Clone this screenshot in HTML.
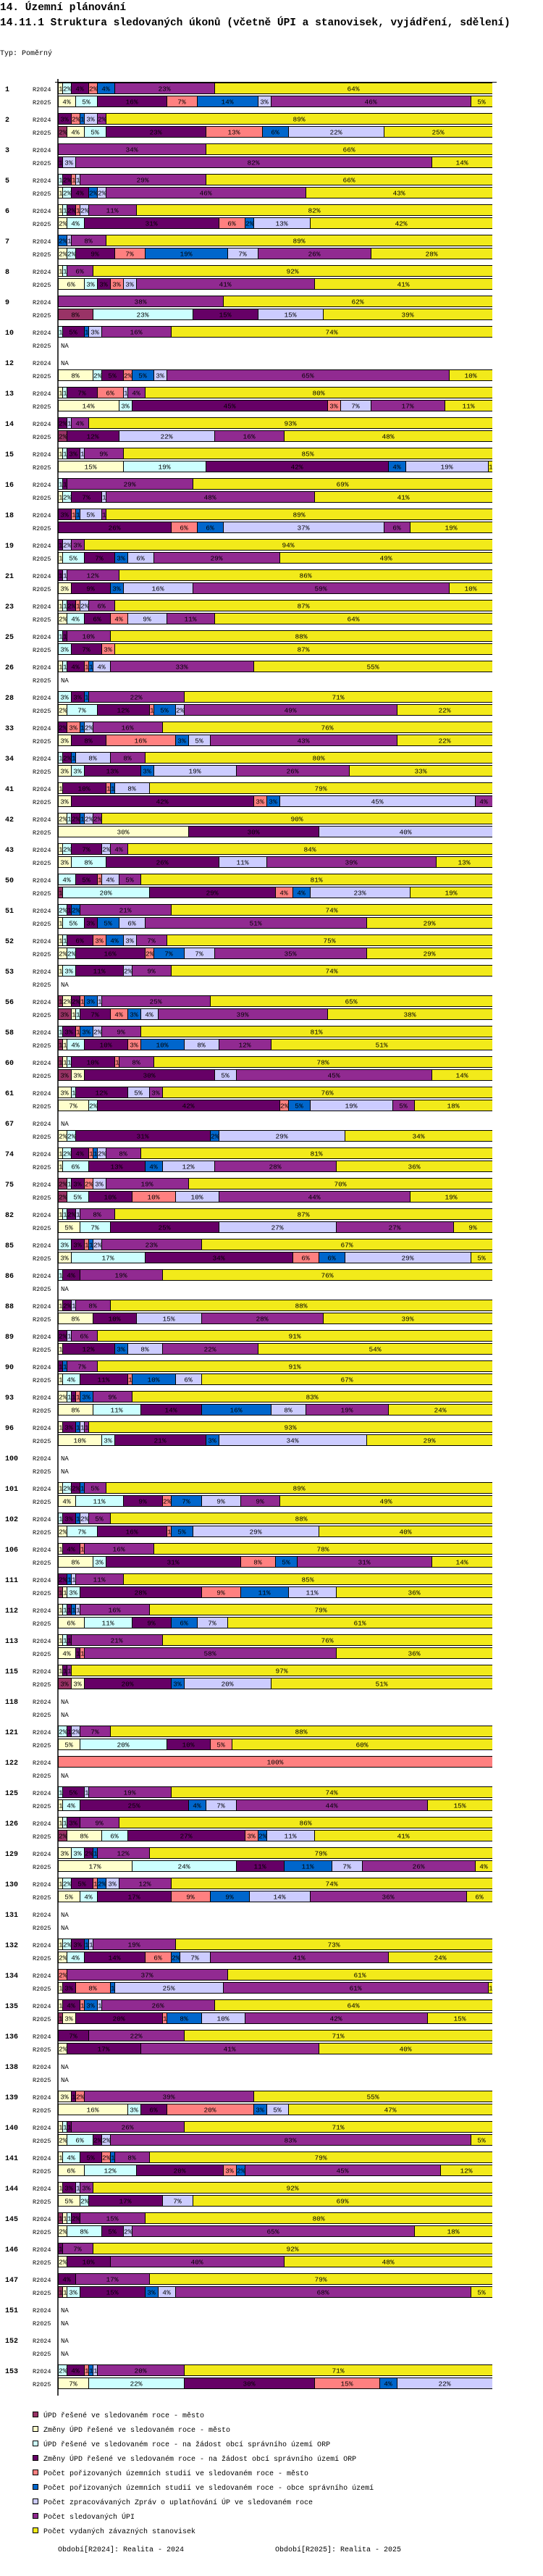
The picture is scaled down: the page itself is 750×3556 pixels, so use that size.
<!DOCTYPE html>
<html><head><meta charset="utf-8">
<style>
html,body{margin:0;padding:0;background:#fff;}
body{width:750px;height:3556px;overflow:hidden;position:relative;font-family:"Liberation Mono",monospace;}
svg{position:absolute;left:0;top:0;}
</style></head>
<body>
<svg id="chart" width="750" height="3556" xmlns="http://www.w3.org/2000/svg">
<text x="0" y="14" font-family="Liberation Mono, monospace" font-size="14.5" font-weight="bold">14. Územní plánování</text>
<text x="0" y="35" font-family="Liberation Mono, monospace" font-size="14.5" font-weight="bold">14.11.1 Struktura sledovaných úkonů (včetně ÚPI a stanovisek, vyjádření, sdělení)</text>
<text x="0" y="76" font-family="Liberation Mono, monospace" font-size="10">Typ: Poměrný</text>
<g id="bars"></g>
<g id="legend"></g>
<text x="80" y="3522" font-family="Liberation Mono, monospace" font-size="10">Období[R2024]: Realita - 2024</text>
<text x="380" y="3522" font-family="Liberation Mono, monospace" font-size="10">Období[R2025]: Realita - 2025</text>
</svg>
<script>
const categories = ["1","2","3","5","6","7","8","9","10","12","13","14","15","16","18","19","21","23","25","26","28","33","34","41","42","43","50","51","52","53","56","58","60","61","67","74","75","82","85","86","88","89","90","93","96","100","101","102","106","111","112","113","115","118","121","122","125","126","129","130","131","132","134","135","136","138","139","140","141","144","145","146","147","151","152","153"];
const periods = ["R2024","R2025"];
const seriesNames = ["ÚPD řešené ve sledovaném roce - město","Změny ÚPD řešené ve sledovaném roce - město","ÚPD řešené ve sledovaném roce - na žádost obcí správního území ORP","Změny ÚPD řešené ve sledovaném roce - na žádost obcí správního území ORP","Počet pořizovaných územních studií ve sledovaném roce - město","Počet pořizovaných územních studií ve sledovaném roce - obce správního území","Počet zpracovávaných Zpráv o uplatňování ÚP ve sledovaném roce","Počet sledovaných ÚPI","Počet vydaných závazných stanovisek"];
const seriesColors = ["#993366","#FFFFCC","#CCFFFF","#660066","#FF8080","#0066CC","#CCCCFF","#912A91","#F2EA1A"];
const valuesR2024 = [
[0,1,2,4,2,4,0,23,64],[0,0,0,3,2,1,3,2,89],[0,0,0,0,0,0,0,34,66],[0,0,1,2,1,0,1,29,66],[0,1,1,2,1,0,2,11,82],
[0,0,0,0,0,2,1,8,89],[0,1,1,0,0,0,0,6,92],[0,0,0,0,0,0,0,38,62],[0,0,1,5,0,1,3,16,74],null,
[0,1,1,7,6,0,1,4,80],[0,0,0,2,0,0,1,4,93],[0,1,1,3,0,0,1,9,85],[0,0,1,1,0,0,0,29,69],[0,0,0,3,1,1,5,1,89],
[0,0,0,1,0,0,2,3,94],[0,0,0,1,0,0,1,12,86],[0,1,1,2,1,0,2,6,87],[0,0,1,1,0,0,0,10,88],[0,1,1,4,1,1,4,33,55],
[0,0,3,3,0,1,0,22,71],[0,0,0,2,3,1,2,16,76],[0,0,1,2,0,1,8,8,80],[0,1,0,10,1,1,8,0,79],[0,2,1,2,0,1,2,2,90],
[0,1,2,7,0,0,2,4,84],[0,0,4,5,1,0,4,5,81],[0,0,2,1,0,2,0,21,74],[0,1,1,6,3,4,3,7,75],[0,1,3,11,0,0,2,9,74],
[1,2,0,2,1,3,1,25,65],[0,0,1,3,1,3,2,9,81],[1,1,1,10,1,0,0,8,78],[0,3,1,12,0,0,5,3,76],null,
[0,1,2,4,1,1,2,8,81],[2,0,1,3,2,0,3,19,70],[0,1,1,2,0,0,1,8,87],[0,0,3,3,1,1,2,23,67],[0,0,1,4,0,0,0,19,76],
[0,1,0,2,0,0,1,8,88],[0,0,0,2,0,0,1,6,91],[0,0,0,1,0,1,0,7,91],[0,2,1,1,1,3,0,9,83],[0,1,0,3,0,1,1,1,93],
null,[0,1,2,2,0,1,0,5,89],[0,0,1,3,0,1,2,5,88],[0,1,0,4,1,0,0,16,78],[0,0,0,2,0,1,1,11,85],
[0,1,1,1,0,1,1,16,79],[0,1,1,1,0,0,0,21,76],[0,1,0,1,0,0,0,1,97],null,[0,0,2,1,0,0,2,7,88],
[0,0,0,0,100,0,0,0,0],[0,0,1,5,0,0,1,19,74],[0,1,1,3,0,0,0,9,86],[0,3,3,2,0,1,0,12,79],[0,1,2,5,1,2,3,12,74],
null,[0,1,2,3,0,1,1,19,73],[0,0,0,0,2,0,0,37,61],[0,1,0,4,1,3,1,26,64],[0,0,0,7,0,0,0,22,71],
null,[0,3,0,1,2,0,0,39,55],[0,1,1,1,0,0,0,26,71],[0,1,4,5,2,1,0,8,79],[0,1,0,3,0,0,1,3,92],
[1,1,1,2,0,0,0,15,80],[0,0,0,1,0,0,0,7,92],[0,0,0,4,0,0,0,17,79],null,null,
[0,0,2,4,1,1,1,20,71]];
const valuesR2025 = [
[0,4,5,16,7,14,3,46,5],[2,4,5,23,13,6,22,0,25],[0,0,0,1,0,0,3,82,14],[0,1,2,4,0,2,2,46,43],[0,2,4,31,6,2,13,0,42],
[0,2,2,9,7,19,7,26,28],[0,6,3,3,3,0,3,41,41],[8,0,23,15,0,0,15,0,39],null,[0,8,2,5,2,5,3,65,10],
[0,14,3,45,3,0,7,17,11],[2,0,0,12,0,0,22,16,48],[0,15,19,42,0,4,19,0,1],[0,1,2,7,0,0,1,48,41],[0,0,0,26,6,6,37,6,19],
[0,1,5,7,0,3,6,29,49],[0,3,0,9,0,3,16,59,10],[0,2,4,6,4,0,9,11,64],[0,0,3,7,3,0,0,0,87],null,
[0,2,7,12,1,5,2,49,22],[0,3,0,8,16,3,5,43,22],[0,3,3,13,0,3,19,26,33],[0,3,0,42,3,3,45,4,0],[0,30,0,30,0,0,40,0,0],
[0,3,8,26,0,0,11,39,13],[1,0,20,29,4,4,23,0,19],[0,1,5,3,0,5,6,51,29],[0,2,2,16,2,7,7,35,29],null,
[3,1,1,7,4,3,4,39,38],[1,1,4,10,3,10,8,12,51],[3,3,0,30,0,0,5,45,14],[0,7,2,42,2,5,19,5,18],[0,2,2,31,0,2,29,0,34],
[0,1,6,13,0,4,12,28,36],[2,0,5,10,10,0,10,44,19],[0,5,7,25,0,0,27,27,9],[0,3,17,34,6,6,29,0,5],null,
[0,8,0,10,0,0,15,28,39],[0,1,0,12,0,3,8,22,54],[0,1,4,11,1,10,6,0,67],[0,8,11,14,0,16,8,19,24],[0,10,3,21,0,3,34,0,29],
null,[0,4,11,9,2,7,9,9,49],[0,2,7,16,1,5,29,0,40],[0,8,3,31,8,5,0,31,14],[1,1,3,28,9,11,11,0,36],
[0,6,11,9,0,6,7,0,61],[0,4,0,1,1,0,0,58,36],[3,3,0,20,0,3,20,0,51],null,[0,5,20,10,5,0,0,0,60],
null,[0,1,4,25,0,4,7,44,15],[2,8,6,27,3,2,11,0,41],[0,17,24,11,0,11,7,26,4],[0,5,4,17,9,9,14,36,6],
null,[0,2,4,14,6,2,7,41,24],[0,1,0,3,8,1,25,61,1],[1,3,0,20,1,8,10,42,15],[0,2,0,17,0,0,0,41,40],
null,[0,16,3,6,20,3,5,0,47],[0,2,6,2,0,0,2,83,5],[0,6,12,20,3,2,0,45,12],[0,5,2,17,0,0,7,0,69],
[0,2,8,5,0,0,2,65,18],[0,2,0,10,0,0,0,40,48],[1,1,3,15,0,3,4,68,5],null,null,
[0,7,22,30,15,4,22,0,0]];

const NS = "http://www.w3.org/2000/svg";
const X0 = 80, XW = 600, TOP = 114, GROUP = 42, ROW = 18, BH = 15;
function xScale(p){ return X0 + p / 100 * XW; }
function groupY(i){ return TOP + i * GROUP; }
function mk(tag, attrs){ const e = document.createElementNS(NS, tag); for (const k in attrs) e.setAttribute(k, attrs[k]); return e; }

const bars = document.getElementById('bars');
const lastY = groupY(categories.length - 1) + ROW + BH + 10;
const axis = mk('line', {x1: X0, y1: 109, x2: X0, y2: lastY, stroke: '#000', 'stroke-width': 1.5});


bars.appendChild(axis);
const topLine = mk('line', {x1: 76, y1: 113.5, x2: 686, y2: 113.5, stroke: '#000', 'stroke-width': 1});


bars.appendChild(topLine);

categories.forEach((cat, i) => {
  const gy = groupY(i);
  const gl = mk('text', {x: 7, y: gy + 12, 'font-family': 'Liberation Mono, monospace', 'font-size': 10, 'font-weight': 'bold'});
  gl.textContent = cat;
  
  
  bars.appendChild(gl);
  [valuesR2024[i], valuesR2025[i]].forEach((vals, r) => {
    const y = gy + r * ROW;
    const pl = mk('text', {x: 45, y: y + 12, 'font-family': 'Liberation Mono, monospace', 'font-size': 8.5});
    pl.textContent = periods[r];
    
    
    bars.appendChild(pl);
    if (!vals) {
      const na = mk('text', {x: 84, y: y + 12, 'font-family': 'Liberation Mono, monospace', 'font-size': 9});
      na.textContent = 'NA';
      
      
      bars.appendChild(na);
      return;
    }
    const total = vals.reduce((a, b) => a + b, 0);
    let acc = 0;
    vals.forEach((v, s) => {
      if (!v) return;
      const x1 = xScale(acc / total * 100), x2 = xScale((acc + v) / total * 100);
      acc += v;
      const seg = mk('svg', {x: x1, y: y, width: x2 - x1, height: BH + 1, overflow: 'hidden'});
      
      
      const rc = mk('rect', {x: 0.5, y: 0.5, width: Math.max(0, x2 - x1 - 0), height: BH, fill: seriesColors[s], stroke: '#000', 'stroke-width': 1});
      seg.appendChild(rc);
      const t = mk('text', {x: (x2 - x1) < 14 ? 1 : (x2 - x1) / 2, y: 11.5, 'text-anchor': (x2 - x1) < 14 ? 'start' : 'middle', 'font-family': 'Liberation Mono, monospace', 'font-size': 9.5, fill: '#000'});
      t.textContent = v + '%';
      seg.appendChild(t);
      bars.appendChild(seg);
    });
  });
});

const legend = document.getElementById('legend');
seriesNames.forEach((name, s) => {
  const y = 3333 + s * 20;
  const g = mk('g', {});
  
  
  g.appendChild(mk('rect', {x: 45.5, y: y - 3.5, width: 7, height: 7, fill: seriesColors[s], stroke: '#000', 'stroke-width': 1}));
  const t = mk('text', {x: 60, y: y + 4, 'font-family': 'Liberation Mono, monospace', 'font-size': 10});
  t.textContent = name;
  g.appendChild(t);
  legend.appendChild(g);
});
</script>
</body></html>
